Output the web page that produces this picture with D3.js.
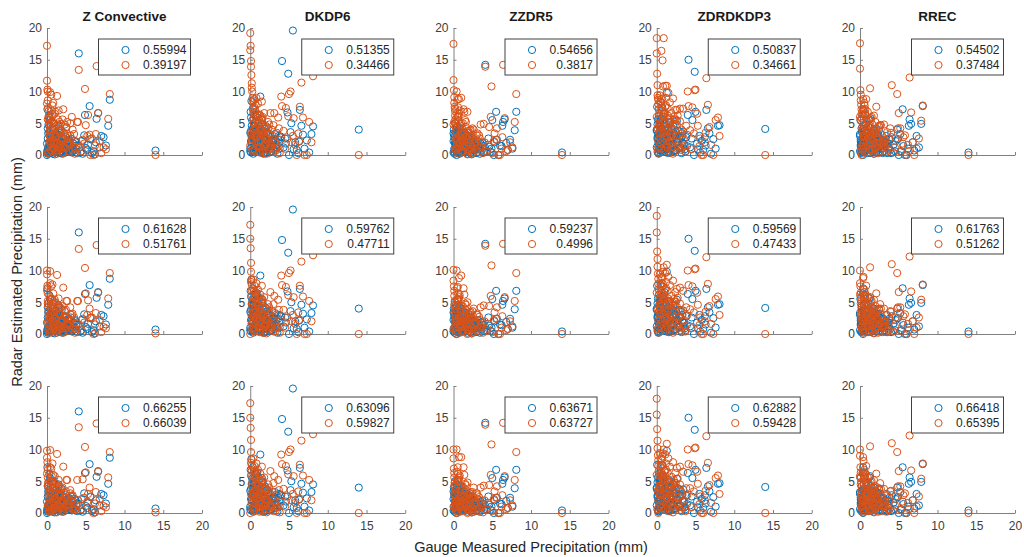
<!DOCTYPE html>
<html>
<head>
<meta charset="utf-8">
<script src="https://cdn.jsdelivr.net/npm/d3@7"></script>
<style>
  body { margin: 0; background: #fff; }
  svg { display: block; font-family: "Liberation Sans", Arial, Helvetica, sans-serif; }
  .axis path, .axis line { stroke: #808080; }
  .axis text { fill: #404040; font-size: 12px; }
</style>
</head>
<body>
<svg id="chart" width="1024" height="557"></svg>
<script>
// radar methods (columns)
var methods = ["Z Convective", "DKDP6", "ZZDR5", "ZDRDKDP3", "RREC"];
var ticks = [0, 5, 10, 15, 20];

// gauge measured precipitation (mm), shared by every panel
var gauge = [
  0, 0, 0.05, 0.1, 0.1, 0.15, 0.2, 0.2, 0.25, 0.3,
  0.3, 0.35, 0.4, 0.4, 0.45, 0.5, 0.1, 0.2, 0.0, 0.3,
  0.55, 0.6, 0.65, 0.7, 0.75, 0.8, 0.9, 1.0, 1.1, 1.2,
  1.3, 1.4, 1.5, 1.6, 1.7, 1.8, 1.9, 2.0, 0.6, 0.9,
  1.0, 1.2, 1.4, 1.6, 1.8, 2.1, 2.2, 2.4, 2.5, 2.6,
  2.8, 3.0, 3.1, 3.2, 3.4, 3.5, 3.6, 3.8, 3.9, 2.3,
  2.7, 2.9, 3.3, 3.7, 1.5, 0.8, 1.1, 1.7, 2.0, 0.5,
  4.0, 4.1, 4.3, 4.5, 4.6, 4.8, 5.0, 5.2, 5.5, 5.6,
  5.8, 6.0, 6.3, 6.4, 6.6, 6.8, 7.0, 7.3, 7.6, 7.9,
  8.1, 14.0, 4.9, 6.2, 5.3, 3.0, 1.3, 0.4, 2.6, 0.7,
  0.2, 0.45, 0.6, 0.85, 1.0, 1.25, 1.4, 1.65, 1.8, 2.05,
  2.2, 2.45, 0.3, 0.5, 0.75, 0.9, 1.15, 1.3, 1.55, 1.7,
  1.95, 2.1, 2.35, 2.7, 0.1, 0.65, 1.05, 1.45, 2.9, 3.3
];

// radar estimate, first series (blue), one list per method
var radarBlue = [
  [0.5, 1.8, 7.2, 2.6, 0.2, 3.4, 1.0, 4.8, 0.6, 2.0, 3.6, 0.3, 1.4, 5.5, 0.8, 2.9, 4.2, 1.2, 0.0, 6.1,
   1.5, 0.4, 3.0, 2.2, 0.9, 4.0, 1.8, 0.5, 2.7, 1.1, 3.3, 0.7, 4.5, 1.6, 2.4, 0.3, 3.8, 1.2, 2.1, 5.0,
   0.8, 2.5, 1.4, 3.1, 0.6, 2.0, 1.3, 2.8, 0.9, 1.7, 2.4, 1.0, 2.6, 0.4, 1.8, 0.7, 2.2, 1.5, 0.3, 1.9,
   2.3, 0.6, 1.2, 2.0, 4.2, 2.8, 3.5, 1.0, 0.2, 1.4, 1.5, 16.0, 0.4, 2.2, 0.2, 3.1, 1.1, 0.8, 7.7, 2.5,
   0.3, 0.6, 2.0, 5.7, 6.6, 1.2, 3.0, 2.8, 1.5, 4.6, 8.7, 0.7, 6.3, 0.1, 1.6, 0.6, 2.6, 1.5, 0.8, 3.2,
   0.3, 1.6, 0.8, 2.4, 0.1, 1.2, 2.0, 0.5, 1.7, 0.9, 2.6, 0.4, 1.1, 2.2, 0.2, 1.4, 0.7, 2.9, 1.0, 0.3,
   1.9, 0.6, 1.3, 2.1, 0.9, 3.0, 0.4, 1.5, 1.1, 0.6],
  [1.0, 3.5, 6.8, 0.4, 2.2, 8.5, 4.6, 1.6, 5.4, 0.8, 3.0, 7.2, 2.6, 0.2, 4.0, 1.3, 5.9, 2.8, 0.6, 3.8,
   2.4, 5.1, 0.9, 3.6, 1.7, 6.0, 2.9, 0.5, 4.4, 1.5, 3.1, 0.7, 5.5, 2.0, 3.8, 1.1, 4.2, 0.3, 2.6, 6.4,
   1.8, 3.4, 0.6, 4.8, 2.3, 1.0, 3.6, 2.0, 0.4, 3.0, 1.4, 2.6, 0.8, 3.3, 1.6, 0.2, 2.4, 1.0, 2.9, 1.8,
   0.6, 2.2, 1.2, 3.0, 5.0, 3.9, 2.7, 1.3, 0.9, 4.6, 2.8, 14.8, 1.2, 2.6, 1.8, 6.7, 0.0, 3.6, 19.6, 0.9,
   2.0, 0.8, 2.1, 7.1, 4.6, 3.2, 1.0, 2.3, 0.4, 3.3, 4.5, 4.0, 12.8, 0.3, 5.0, 2.4, 9.2, 4.4, 1.5, 6.2,
   2.0, 0.6, 3.2, 1.4, 4.0, 0.9, 2.6, 1.8, 0.3, 3.5, 1.1, 2.2, 0.5, 4.6, 1.7, 2.9, 0.8, 3.6, 1.3, 0.2,
   2.4, 1.0, 3.1, 0.6, 3.8, 1.5, 2.7, 0.4, 1.9, 2.3],
  [0.4, 2.2, 4.0, 1.0, 3.2, 0.2, 1.8, 5.0, 2.6, 0.7, 3.6, 1.4, 0.0, 2.9, 4.4, 1.2, 0.5, 2.0, 3.4, 1.6,
   2.0, 0.6, 3.6, 1.3, 2.6, 0.2, 4.2, 1.8, 0.8, 3.0, 1.4, 2.4, 0.5, 3.3, 1.9, 0.9, 2.7, 1.2, 3.8, 0.4,
   2.2, 1.0, 2.9, 0.6, 1.7, 2.5, 0.3, 1.5, 2.1, 0.9, 1.6, 0.4, 2.2, 1.1, 0.2, 1.8, 0.7, 1.4, 0.5, 2.0,
   1.2, 0.3, 1.0, 1.9, 3.0, 2.4, 1.6, 0.8, 2.6, 3.7, 1.4, 14.2, 0.6, 2.6, 1.3, 0.5, 5.5, 0.0, 6.8, 2.4,
   0.0, 1.5, 4.6, 5.2, 5.6, 1.9, 0.8, 2.4, 1.0, 3.9, 6.8, 0.4, 1.0, 1.4, 2.0, 1.8, 3.5, 3.0, 0.8, 4.2,
   0.8, 2.4, 0.3, 1.6, 3.0, 0.6, 1.2, 2.0, 0.2, 1.5, 2.7, 0.9, 1.8, 0.4, 2.2, 1.1, 3.3, 0.5, 1.4, 2.5,
   0.7, 1.9, 0.1, 1.3, 2.8, 0.6, 1.7, 2.2, 0.9, 1.4],
  [1.2, 4.0, 7.6, 0.5, 2.8, 5.6, 1.8, 3.4, 0.2, 6.2, 2.2, 4.6, 0.8, 3.0, 1.5, 5.0, 2.5, 0.3, 3.8, 1.0,
   4.0, 1.6, 5.8, 2.8, 0.6, 3.5, 1.2, 6.6, 2.0, 4.6, 0.9, 3.2, 1.8, 5.2, 2.6, 0.4, 4.0, 1.4, 3.0, 2.2,
   5.0, 1.0, 3.4, 0.5, 2.4, 4.6, 1.6, 3.0, 0.7, 2.0, 3.8, 1.2, 2.6, 0.3, 3.7, 1.8, 0.9, 2.8, 1.4, 3.3,
   2.1, 1.0, 3.0, 0.6, 4.2, 6.0, 3.8, 2.4, 1.2, 5.5, 6.3, 15.0, 1.2, 2.6, 5.5, 0.0, 6.8, 1.8, 3.0, 0.4,
   2.2, 0.8, 1.5, 7.1, 4.2, 3.4, 0.2, 2.5, 1.0, 4.6, 4.7, 4.1, 13.1, 2.8, 0.9, 3.7, 9.8, 5.2, 5.4, 7.5,
   2.6, 0.7, 4.2, 1.5, 3.3, 0.4, 2.0, 5.0, 1.1, 2.8, 0.6, 3.6, 1.8, 4.5, 0.9, 2.3, 1.4, 3.9, 0.3, 2.7,
   1.6, 3.1, 0.8, 2.0, 4.8, 1.2, 3.4, 0.5, 2.5, 1.9],
  [0.6, 3.0, 5.5, 1.4, 2.4, 0.3, 4.2, 1.8, 3.6, 0.9, 2.0, 6.4, 1.2, 0.0, 2.8, 4.6, 1.6, 0.5, 3.3, 2.2,
   1.4, 3.8, 0.6, 2.6, 4.8, 1.0, 3.0, 0.3, 2.2, 5.6, 1.8, 0.8, 3.4, 2.4, 0.5, 4.0, 1.3, 2.8, 0.9, 3.6,
   2.0, 1.2, 4.2, 0.7, 2.6, 1.5, 3.2, 0.4, 1.9, 2.5, 1.0, 2.2, 0.6, 1.6, 3.0, 0.3, 1.8, 2.4, 0.8, 3.0,
   1.4, 0.5, 2.0, 1.2, 3.6, 2.8, 4.4, 1.0, 2.2, 0.8, 0.3, 2.8, 1.6, 0.6, 2.2, 4.0, 0.0, 3.3, 7.2, 1.4,
   0.0, 0.0, 4.6, 5.6, 4.9, 2.0, 0.7, 3.0, 1.2, 4.9, 7.7, 0.4, 2.5, 1.0, 0.6, 2.4, 5.8, 7.2, 1.0, 3.5,
   1.2, 2.8, 0.4, 1.8, 3.4, 0.7, 2.2, 1.0, 0.2, 2.6, 1.5, 3.9, 0.6, 1.3, 2.0, 0.9, 2.9, 0.3, 1.7, 2.4,
   1.1, 0.5, 3.2, 1.6, 2.1, 0.8, 1.4, 2.7, 0.3, 1.9]
];

// radar estimate, second series (orange), rows x methods
var radarOrange = [
  [
    [17.2, 11.7, 10.3, 10.0, 8.6, 7.4, 6.9, 6.1, 5.8, 4.9, 4.5, 3.6, 2.8, 2.2, 1.7, 0.8, 0.3, 5.5, 8.1, 3.1,
     9.5, 7.0, 4.2, 2.5, 6.2, 1.0, 5.0, 3.3, 0.5, 4.6, 2.0, 5.6, 0.8, 3.8, 1.5, 4.9, 2.7, 0.4, 5.3, 1.8,
     6.5, 3.0, 1.2, 5.2, 2.2, 7.2, 3.5, 1.1, 4.3, 2.0, 0.6, 5.0, 2.6, 6.0, 1.4, 3.3, 0.2, 2.1, 5.2, 4.8,
     3.0, 1.7, 4.0, 1.0, 7.0, 8.2, 6.8, 3.9, 5.6, 4.0, 5.2, 13.4, 1.2, 0.6, 2.4, 1.8, 4.7, 3.0, 3.2, 0.0,
     2.6, 0.0, 3.3, 14.0, 6.6, 2.2, 0.3, 1.2, 0.9, 5.7, 9.6, 0.0, 10.4, 1.5, 6.3, 3.1, 9.3, 9.9, 5.2, 7.8,
     1.4, 3.0, 0.6, 2.2, 4.1, 0.2, 1.8, 3.5, 0.9, 2.6, 1.2, 4.4, 0.4, 2.0, 3.2, 1.0, 2.8, 0.7, 3.8, 1.5,
     2.4, 0.3, 3.1, 1.7, 5.6, 6.4, 2.9, 4.8, 1.9, 0.8],
    [19.2, 16.5, 17.2, 14.8, 13.9, 12.6, 11.3, 10.6, 10.0, 9.0, 8.3, 7.4, 6.6, 5.8, 5.0, 4.1, 3.2, 2.4, 1.5, 0.6,
     8.8, 6.2, 4.5, 7.8, 2.6, 5.4, 3.4, 8.1, 1.2, 6.4, 4.0, 2.0, 5.8, 0.8, 3.6, 6.6, 1.6, 4.6, 7.2, 2.9,
     5.0, 0.4, 3.8, 6.0, 1.4, 4.4, 2.6, 0.9, 3.3, 1.8, 4.0, 0.5, 6.6, 2.1, 3.5, 1.2, 5.9, 0.3, 2.4, 5.2,
     1.5, 3.0, 0.7, 4.2, 8.4, 9.0, 5.6, 3.2, 2.0, 7.6, 9.2, 7.7, 3.8, 1.0, 7.4, 2.6, 9.6, 10.0, 3.0, 5.8,
     1.6, 0.0, 2.2, 7.6, 11.4, 5.9, 0.0, 0.0, 5.2, 2.0, 12.4, 0.0, 6.1, 3.4, 2.0, 4.7, 6.2, 8.6, 6.6, 3.5,
     2.0, 3.8, 0.7, 2.9, 5.0, 1.2, 3.4, 0.3, 4.4, 1.6, 2.6, 4.8, 0.9, 3.1, 1.9, 5.4, 0.5, 2.3, 3.9, 1.4,
     2.8, 0.2, 4.2, 1.1, 3.6, 6.8, 2.1, 5.6, 2.5, 1.0],
    [17.5, 11.8, 10.2, 9.1, 8.2, 7.6, 6.9, 6.2, 5.6, 5.0, 4.3, 3.6, 2.9, 2.2, 1.6, 1.0, 0.4, 7.3, 4.8, 2.6,
     8.8, 7.5, 5.4, 3.0, 6.6, 1.8, 4.6, 9.0, 2.4, 5.0, 3.2, 6.8, 1.2, 4.4, 2.0, 6.8, 3.8, 0.6, 6.0, 2.8,
     4.9, 1.4, 3.6, 5.2, 0.8, 2.6, 4.0, 1.0, 3.2, 0.4, 2.2, 1.5, 3.4, 0.5, 2.6, 4.8, 1.2, 0.3, 4.9, 3.0,
     1.8, 0.8, 3.1, 2.0, 5.5, 7.0, 4.2, 2.5, 3.5, 6.0, 2.0, 13.9, 0.5, 1.6, 4.4, 6.0, 0.3, 2.2, 2.4, 4.2,
     0.0, 0.0, 2.8, 14.2, 5.8, 0.6, 0.8, 2.0, 1.2, 5.2, 9.6, 0.0, 10.8, 1.0, 3.4, 3.1, 7.2, 10.0, 4.0, 8.8,
     1.0, 2.6, 0.3, 1.9, 3.6, 0.6, 2.2, 1.4, 0.1, 3.0, 1.7, 4.2, 0.8, 2.4, 1.2, 3.3, 0.4, 2.0, 2.8, 1.5,
     0.9, 3.9, 0.2, 1.8, 5.2, 6.2, 2.5, 3.4, 2.0, 1.1],
    [18.4, 16.0, 12.8, 11.0, 9.4, 9.0, 8.7, 8.0, 7.2, 6.5, 5.7, 5.0, 4.2, 3.4, 2.6, 1.8, 1.0, 0.3, 6.0, 4.6,
     8.2, 16.4, 7.0, 5.3, 14.9, 6.1, 18.4, 4.0, 10.9, 9.0, 3.0, 7.4, 5.6, 2.2, 8.3, 4.4, 6.6, 1.4, 8.8, 6.8,
     3.5, 7.8, 1.2, 5.0, 2.8, 8.9, 6.0, 7.1, 3.0, 4.8, 2.0, 5.3, 0.8, 4.0, 7.3, 2.6, 1.4, 4.6, 3.2, 5.6,
     6.2, 1.2, 3.4, 0.5, 9.8, 10.8, 7.6, 5.8, 4.2, 8.4, 10.0, 7.7, 3.9, 0.9, 7.5, 3.4, 10.3, 6.5, 1.4, 2.6,
     0.0, 0.0, 3.5, 12.1, 7.9, 4.4, 1.6, 0.0, 5.5, 5.9, 3.0, 0.0, 10.2, 2.0, 4.6, 7.3, 10.9, 9.4, 7.1, 8.9,
     2.4, 4.6, 1.0, 3.4, 6.0, 1.6, 4.0, 0.4, 5.2, 2.0, 3.0, 5.6, 1.3, 3.8, 2.2, 6.4, 0.7, 2.8, 4.4, 1.8,
     3.3, 0.2, 4.9, 1.5, 4.2, 7.4, 2.6, 6.2, 3.0, 1.1],
    [17.6, 13.6, 10.2, 9.5, 8.6, 7.9, 7.2, 6.5, 5.8, 5.1, 4.4, 3.7, 3.0, 2.4, 1.8, 1.1, 0.5, 0.0, 6.0, 4.0,
     8.2, 6.4, 4.6, 7.2, 2.8, 5.6, 3.6, 6.8, 1.6, 4.4, 3.2, 5.8, 0.9, 4.8, 2.4, 6.2, 3.8, 1.2, 7.8, 5.2,
     4.0, 2.0, 5.4, 0.8, 3.4, 7.6, 2.8, 1.5, 4.4, 0.6, 3.2, 1.4, 4.8, 2.2, 0.5, 3.6, 1.0, 2.6, 4.2, 3.0,
     4.7, 1.8, 2.4, 0.7, 6.0, 8.8, 5.5, 3.9, 5.2, 7.0, 3.5, 11.0, 0.4, 1.2, 2.6, 9.6, 6.6, 4.2, 1.8, 2.8,
     3.1, 0.0, 0.6, 12.2, 6.7, 2.0, 0.0, 1.0, 2.6, 5.4, 7.8, 0.0, 4.2, 1.6, 0.5, 2.0, 10.5, 8.8, 4.7, 6.2,
     1.3, 3.0, 0.5, 2.2, 4.0, 0.8, 2.6, 1.6, 0.2, 3.4, 1.9, 4.6, 0.9, 2.8, 1.4, 3.7, 0.4, 2.3, 3.2, 1.7,
     1.0, 4.2, 0.3, 2.0, 5.4, 6.6, 2.7, 3.8, 2.3, 1.2]
  ],
  [
    [10.0, 9.4, 7.6, 6.4, 5.2, 4.4, 3.6, 2.9, 2.2, 1.5, 0.8, 0.2, 8.0, 5.8, 4.0, 3.2, 1.9, 0.6, 6.9, 2.6,
     7.5, 5.5, 3.6, 2.0, 4.8, 0.8, 4.2, 2.6, 0.4, 3.8, 1.6, 4.6, 0.6, 3.0, 1.2, 4.1, 2.2, 0.3, 4.4, 1.4,
     5.4, 2.4, 0.9, 4.2, 1.8, 7.3, 2.8, 0.9, 5.2, 1.6, 0.5, 4.2, 2.1, 3.0, 1.1, 2.6, 0.2, 1.7, 5.2, 3.6,
     2.4, 1.3, 3.2, 0.8, 5.6, 6.4, 5.0, 3.1, 4.4, 3.2, 5.2, 13.4, 1.2, 0.6, 2.4, 1.8, 6.4, 3.0, 4.0, 2.6,
     2.6, 0.0, 3.3, 14.0, 6.5, 2.2, 0.3, 1.1, 0.9, 5.6, 9.6, 0.1, 10.4, 1.5, 5.3, 3.1, 9.3, 9.9, 5.2, 7.8,
     1.2, 2.6, 0.5, 1.9, 3.5, 0.2, 1.5, 3.0, 0.8, 2.2, 1.0, 3.8, 0.3, 1.7, 2.8, 0.9, 2.4, 0.6, 3.2, 1.3,
     2.0, 0.2, 2.7, 1.5, 4.8, 5.5, 2.5, 4.1, 1.6, 0.7],
    [17.2, 15.0, 13.5, 11.2, 9.8, 8.6, 7.8, 6.9, 6.0, 5.1, 4.3, 3.5, 2.7, 1.9, 1.1, 0.4, 8.2, 4.8, 0.0, 3.0,
     7.6, 5.8, 4.0, 6.6, 2.2, 5.0, 3.0, 7.0, 1.0, 5.6, 3.6, 1.6, 5.2, 0.6, 3.0, 5.8, 1.3, 4.0, 6.4, 2.5,
     4.5, 0.3, 3.3, 5.4, 1.2, 4.0, 2.2, 0.7, 3.0, 1.5, 3.6, 0.4, 6.0, 1.8, 3.1, 1.0, 5.4, 0.2, 2.0, 4.7,
     1.2, 2.7, 0.5, 3.8, 7.6, 8.0, 5.0, 2.8, 1.7, 6.8, 9.2, 7.7, 3.8, 1.0, 7.4, 2.6, 9.6, 10.0, 3.0, 5.8,
     1.6, 0.0, 2.2, 7.6, 11.4, 5.9, 0.0, 0.0, 5.2, 2.0, 12.4, 0.0, 6.1, 3.4, 2.0, 4.7, 6.2, 8.6, 6.6, 3.5,
     1.7, 3.3, 0.6, 2.5, 4.4, 1.0, 3.0, 0.2, 3.9, 1.4, 2.3, 4.2, 0.8, 2.7, 1.6, 4.8, 0.4, 2.0, 3.4, 1.2,
     2.5, 0.1, 3.7, 1.0, 3.2, 6.0, 1.8, 5.0, 2.2, 0.9],
    [10.1, 8.4, 7.5, 6.8, 6.0, 5.2, 4.5, 3.9, 3.1, 2.5, 1.8, 1.2, 0.5, 0.0, 7.2, 5.5, 3.4, 2.0, 0.8, 4.0,
     7.4, 6.4, 4.6, 2.5, 5.8, 1.5, 4.0, 9.2, 2.0, 4.4, 2.8, 6.2, 1.0, 3.8, 1.7, 5.0, 3.2, 0.5, 5.4, 2.4,
     4.4, 1.2, 3.0, 4.6, 0.7, 2.2, 3.5, 0.8, 2.8, 0.3, 1.9, 1.2, 3.0, 0.4, 2.2, 4.2, 1.0, 0.2, 4.5, 2.6,
     1.5, 0.6, 2.7, 1.7, 4.8, 6.1, 3.7, 2.1, 3.0, 5.3, 2.0, 13.9, 0.5, 1.6, 4.4, 6.0, 0.3, 2.2, 2.4, 4.2,
     0.0, 0.0, 2.8, 14.2, 5.8, 0.6, 0.8, 2.0, 1.2, 5.2, 9.6, 0.0, 10.8, 1.0, 3.4, 3.1, 7.2, 10.0, 4.0, 8.8,
     0.9, 2.2, 0.2, 1.6, 3.1, 0.5, 1.9, 1.2, 0.0, 2.6, 1.4, 3.6, 0.6, 2.0, 1.0, 2.9, 0.3, 1.7, 2.4, 1.3,
     0.7, 3.4, 0.1, 1.5, 4.6, 5.5, 2.1, 2.9, 1.7, 0.9],
    [18.6, 16.0, 13.0, 11.8, 10.6, 9.5, 8.7, 7.9, 7.0, 6.2, 5.4, 4.7, 3.9, 3.1, 2.3, 1.6, 0.8, 0.2, 6.5, 4.4,
     7.6, 9.0, 6.4, 4.8, 8.0, 5.5, 10.5, 3.6, 9.6, 8.2, 2.6, 6.8, 5.0, 1.9, 7.7, 4.0, 6.0, 1.2, 8.0, 6.2,
     3.1, 7.2, 1.0, 4.5, 2.4, 8.4, 5.5, 6.6, 2.7, 4.3, 1.7, 4.8, 0.6, 3.6, 6.8, 2.2, 1.2, 4.2, 2.9, 5.1,
     5.7, 1.0, 3.0, 0.4, 9.0, 9.8, 7.0, 5.2, 3.8, 7.8, 10.0, 7.7, 3.9, 0.9, 7.5, 3.4, 10.3, 6.5, 1.4, 2.6,
     0.0, 0.0, 3.5, 12.1, 7.9, 4.4, 1.6, 0.0, 5.5, 5.9, 3.0, 0.0, 10.2, 2.0, 4.6, 7.3, 10.9, 9.4, 7.1, 8.9,
     2.2, 4.2, 0.9, 3.1, 5.4, 1.4, 3.6, 0.3, 4.8, 1.8, 2.7, 5.1, 1.1, 3.4, 2.0, 5.8, 0.6, 2.5, 4.0, 1.6,
     3.0, 0.2, 4.5, 1.3, 3.8, 6.8, 2.3, 5.6, 2.7, 1.0],
    [10.0, 8.0, 7.5, 6.5, 5.8, 5.2, 4.5, 3.9, 3.2, 2.6, 2.0, 1.4, 0.7, 0.2, 9.0, 4.8, 3.0, 1.0, 6.2, 2.2,
     7.0, 5.6, 3.8, 6.2, 2.2, 4.8, 3.0, 5.8, 1.2, 3.8, 2.6, 5.0, 0.6, 4.0, 1.9, 5.4, 3.2, 0.9, 6.6, 4.4,
     3.4, 1.6, 4.6, 0.5, 2.8, 6.4, 2.3, 1.1, 3.8, 0.4, 2.7, 1.1, 4.0, 1.8, 0.3, 3.0, 0.7, 2.1, 3.6, 2.5,
     4.0, 1.4, 2.0, 0.5, 5.2, 7.6, 4.7, 3.3, 4.4, 6.0, 3.5, 11.0, 0.4, 1.2, 2.6, 9.6, 6.6, 4.2, 1.8, 2.8,
     3.1, 0.0, 0.6, 12.2, 6.7, 2.0, 0.0, 1.0, 2.6, 5.4, 7.8, 0.0, 4.2, 1.6, 0.5, 2.0, 10.5, 8.8, 4.7, 6.2,
     1.1, 2.6, 0.4, 1.9, 3.5, 0.7, 2.2, 1.3, 0.1, 2.9, 1.6, 4.0, 0.7, 2.4, 1.2, 3.2, 0.3, 2.0, 2.8, 1.4,
     0.8, 3.6, 0.2, 1.7, 4.8, 5.9, 2.3, 3.3, 2.0, 1.0]
  ],
  [
    [9.8, 8.7, 8.0, 6.8, 5.6, 4.8, 3.9, 3.0, 2.4, 1.6, 0.9, 0.2, 7.2, 5.0, 4.2, 2.8, 1.2, 0.5, 6.2, 3.4,
     7.0, 5.8, 3.2, 1.8, 4.5, 0.6, 3.9, 2.3, 0.7, 4.0, 1.9, 4.3, 0.4, 2.7, 1.0, 3.8, 2.0, 0.5, 5.0, 1.2,
     5.8, 2.1, 1.1, 3.9, 1.5, 7.3, 2.5, 1.2, 5.2, 1.9, 0.8, 3.6, 1.8, 2.7, 0.9, 2.2, 0.4, 1.3, 5.2, 3.2,
     2.0, 1.0, 2.8, 0.6, 5.2, 6.0, 4.6, 2.8, 4.0, 2.9, 2.0, 13.5, 1.2, 0.6, 5.3, 2.4, 6.4, 1.8, 4.0, 2.6,
     0.5, 0.0, 3.3, 14.1, 6.5, 2.2, 0.3, 1.1, 0.9, 5.6, 9.6, 0.1, 10.4, 1.5, 3.0, 3.1, 9.3, 9.9, 5.2, 7.8,
     1.0, 2.3, 0.4, 1.7, 3.1, 0.1, 1.3, 2.7, 0.7, 2.0, 0.9, 3.4, 0.3, 1.5, 2.5, 0.8, 2.1, 0.5, 2.9, 1.1,
     1.8, 0.2, 2.4, 1.3, 4.3, 5.0, 2.2, 3.6, 1.4, 0.6],
    [17.3, 15.0, 13.4, 11.5, 9.6, 8.4, 7.5, 6.7, 5.8, 5.0, 4.1, 3.3, 2.5, 1.7, 1.0, 0.3, 7.9, 4.5, 0.0, 2.8,
     7.4, 5.6, 3.8, 6.4, 2.0, 4.8, 2.8, 6.8, 0.9, 5.4, 3.4, 1.5, 5.0, 0.5, 2.8, 5.6, 1.2, 3.8, 6.2, 2.3,
     4.3, 0.2, 3.1, 5.2, 1.1, 3.8, 2.0, 0.6, 2.8, 1.4, 3.4, 0.3, 5.8, 1.6, 2.9, 0.9, 5.2, 0.1, 1.8, 4.5,
     1.1, 2.5, 0.4, 3.6, 7.3, 7.8, 4.8, 2.6, 1.6, 6.5, 9.2, 7.7, 3.8, 1.0, 7.4, 2.6, 9.6, 10.0, 3.0, 5.8,
     1.6, 0.0, 2.2, 7.6, 11.4, 5.9, 0.0, 0.0, 5.2, 2.0, 12.4, 0.0, 6.1, 3.4, 2.0, 4.7, 6.2, 8.6, 6.6, 3.5,
     1.6, 3.1, 0.5, 2.4, 4.2, 0.9, 2.8, 0.2, 3.7, 1.3, 2.1, 4.0, 0.7, 2.6, 1.5, 4.6, 0.4, 1.9, 3.2, 1.1,
     2.3, 0.1, 3.5, 0.9, 3.0, 5.7, 1.7, 4.8, 2.0, 0.8],
    [10.0, 8.6, 7.0, 6.3, 5.6, 4.8, 4.1, 3.5, 2.8, 2.2, 1.5, 0.9, 0.3, 0.0, 6.5, 5.0, 3.0, 1.8, 1.0, 3.8,
     7.2, 6.2, 4.4, 2.3, 5.6, 1.4, 3.8, 8.8, 1.9, 4.2, 2.6, 6.0, 0.9, 3.6, 1.5, 4.8, 3.0, 0.4, 5.2, 2.2,
     4.2, 1.0, 2.8, 4.4, 0.6, 2.0, 3.3, 0.7, 2.6, 0.2, 1.7, 1.0, 2.8, 0.3, 2.0, 4.0, 0.9, 0.1, 4.3, 2.4,
     1.3, 0.5, 2.5, 1.5, 4.6, 5.9, 3.5, 1.9, 2.8, 5.1, 2.0, 13.9, 0.5, 1.6, 4.4, 6.0, 0.3, 2.2, 2.4, 4.2,
     0.0, 0.0, 2.8, 14.2, 5.8, 0.6, 0.8, 2.0, 1.2, 5.2, 9.6, 0.0, 10.8, 1.0, 3.4, 3.1, 7.2, 10.0, 4.0, 8.8,
     0.8, 2.0, 0.2, 1.5, 2.9, 0.4, 1.7, 1.1, 0.0, 2.4, 1.3, 3.3, 0.5, 1.8, 0.9, 2.7, 0.3, 1.5, 2.2, 1.2,
     0.6, 3.1, 0.1, 1.4, 4.3, 5.2, 1.9, 2.7, 1.6, 0.8],
    [18.0, 15.5, 13.2, 11.4, 10.2, 9.1, 8.3, 7.4, 6.6, 5.9, 5.1, 4.3, 3.6, 2.8, 2.0, 1.3, 0.6, 0.0, 6.0, 4.0,
     7.2, 8.6, 6.0, 4.5, 7.6, 5.2, 10.0, 3.3, 9.2, 7.8, 2.4, 6.4, 4.7, 1.7, 7.3, 3.7, 5.7, 1.0, 7.6, 5.9,
     2.9, 6.8, 0.9, 4.2, 2.2, 8.0, 5.2, 6.3, 2.5, 4.0, 1.5, 4.5, 0.5, 3.3, 6.5, 2.0, 1.0, 3.9, 2.7, 4.8,
     5.4, 0.9, 2.8, 0.3, 8.6, 9.4, 6.6, 4.9, 3.5, 7.4, 10.0, 7.7, 3.9, 0.9, 7.5, 3.4, 10.3, 6.5, 1.4, 2.6,
     0.0, 0.0, 3.5, 12.1, 7.9, 4.4, 1.6, 0.0, 5.5, 5.9, 3.0, 0.0, 10.2, 2.0, 4.6, 7.3, 10.9, 9.4, 7.1, 8.9,
     2.0, 3.9, 0.8, 2.9, 5.0, 1.3, 3.3, 0.3, 4.4, 1.7, 2.5, 4.7, 1.0, 3.1, 1.8, 5.4, 0.5, 2.3, 3.7, 1.5,
     2.8, 0.1, 4.2, 1.2, 3.5, 6.3, 2.1, 5.2, 2.5, 0.9],
    [10.0, 9.0, 7.2, 6.4, 5.6, 4.9, 4.2, 3.6, 3.0, 2.4, 1.8, 1.2, 0.6, 0.1, 8.2, 4.6, 2.8, 0.9, 5.8, 2.0,
     6.8, 5.4, 3.6, 6.0, 2.0, 4.6, 2.8, 5.6, 1.1, 3.6, 2.4, 4.8, 0.5, 3.8, 1.7, 5.2, 3.0, 0.8, 6.4, 4.2,
     3.2, 1.4, 4.4, 0.4, 2.6, 6.2, 2.1, 1.0, 3.6, 0.3, 2.5, 1.0, 3.8, 1.6, 0.2, 2.8, 0.6, 1.9, 3.4, 2.3,
     3.8, 1.2, 1.8, 0.4, 5.0, 7.4, 4.5, 3.1, 4.2, 5.8, 3.5, 11.0, 0.4, 1.2, 2.6, 9.6, 6.6, 4.2, 1.8, 2.8,
     3.1, 0.0, 0.6, 12.2, 6.7, 2.0, 0.0, 1.0, 2.6, 5.4, 7.8, 0.0, 4.2, 1.6, 0.5, 2.0, 10.5, 8.8, 4.7, 6.2,
     1.0, 2.4, 0.3, 1.8, 3.3, 0.6, 2.0, 1.2, 0.1, 2.7, 1.5, 3.7, 0.6, 2.2, 1.1, 3.0, 0.3, 1.8, 2.6, 1.3,
     0.7, 3.4, 0.2, 1.6, 4.5, 5.6, 2.1, 3.1, 1.8, 0.9]
  ]
];

// legend values, rows x methods
var legendBlue = [
  [0.55994, 0.51355, 0.54656, 0.50837, 0.54502],
  [0.61628, 0.59762, 0.59237, 0.59569, 0.61763],
  [0.66255, 0.63096, 0.63671, 0.62882, 0.66418]
];
var legendOrange = [
  [0.39197, 0.34466, 0.3817, 0.34661, 0.37484],
  [0.51761, 0.47711, 0.4996, 0.47433, 0.51262],
  [0.66039, 0.59827, 0.63727, 0.59428, 0.65395]
];

var blue = "#0072BD", orange = "#D95319";

var svg = d3.select("#chart");

var plotW = 155, plotH = 127;
var left0 = 47, colStep = 203.25;
var bottom0 = 155, rowStep = 179;

methods.forEach(function (name, c) {
  [0, 1, 2].forEach(function (r) {
    var x0 = left0 + c * colStep,
        y0 = bottom0 + r * rowStep;

    var x = d3.scaleLinear().domain([0, 20]).range([x0, x0 + plotW]);
    var y = d3.scaleLinear().domain([0, 20]).range([y0, y0 - plotH]);

    var g = svg.append("g").attr("class", "panel");

    var xAxis = d3.axisBottom(x).tickValues(ticks).tickSizeInner(-3).tickSizeOuter(0).tickPadding(8);
    if (r < 2) xAxis.tickFormat("");
    g.append("g").attr("class", "axis")
      .attr("transform", "translate(0," + y0 + ")")
      .call(xAxis);

    g.append("g").attr("class", "axis")
      .attr("transform", "translate(" + x0 + ",0)")
      .call(d3.axisLeft(y).tickValues(ticks).tickSizeInner(-3).tickSizeOuter(0).tickPadding(5));

    g.selectAll(".axis text").attr("font-family", null).attr("font-size", null);

    var drawSeries = function (vals, color) {
      g.append("g").selectAll("circle")
        .data(gauge.map(function (gv, i) { return [gv, vals[i]]; }))
        .enter().append("circle")
        .attr("cx", function (d) { return x(d[0]); })
        .attr("cy", function (d) { return y(d[1]); })
        .attr("r", 3.6)
        .attr("fill", "none")
        .attr("stroke", color)
        .attr("stroke-width", 1);
    };
    drawSeries(radarBlue[c], blue);
    drawSeries(radarOrange[r][c], orange);

    // legend box
    var lx = x0 + 51.5, ly = y(20) + 11, lw = 92, lh = 36;
    var leg = g.append("g");
    leg.append("rect")
      .attr("x", lx).attr("y", ly).attr("width", lw).attr("height", lh)
      .attr("fill", "#fff").attr("stroke", "#404040").attr("stroke-width", 1);
    [[legendBlue[r][c], blue], [legendOrange[r][c], orange]].forEach(function (e, k) {
      var cy = ly + 11 + k * 15;
      leg.append("circle").attr("cx", lx + 27).attr("cy", cy).attr("r", 3.6)
        .attr("fill", "none").attr("stroke", e[1]);
      leg.append("text").attr("x", lx + lw - 4).attr("y", cy + 4)
        .attr("text-anchor", "end").attr("font-size", 12).attr("fill", "#262626")
        .text(String(e[0]));
    });

    if (r === 0) {
      g.append("text")
        .attr("x", x0 + plotW / 2).attr("y", 21)
        .attr("text-anchor", "middle")
        .attr("font-size", 13.5).attr("font-weight", "bold").attr("fill", "#1a1a1a")
        .text(name);
    }
  });
});

svg.append("text")
  .attr("x", 531).attr("y", 552)
  .attr("text-anchor", "middle").attr("font-size", 14.5).attr("fill", "#262626")
  .text("Gauge Measured Precipitation (mm)");

svg.append("text")
  .attr("transform", "translate(22,272) rotate(-90)")
  .attr("text-anchor", "middle").attr("font-size", 14.5).attr("fill", "#262626")
  .text("Radar Estimated Precipitation (mm)");
</script>
</body>
</html>
